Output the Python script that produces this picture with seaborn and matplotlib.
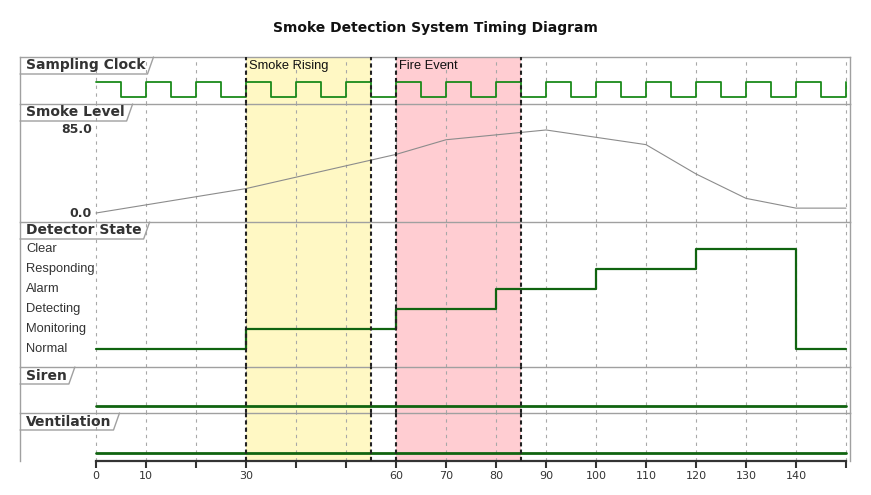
import matplotlib
matplotlib.use("Agg")
import matplotlib.pyplot as plt
import seaborn as sns
import pandas as pd
from matplotlib.lines import Line2D

# ---------------- data ----------------
title = "Smoke Detection System Timing Diagram"
signal_names = ["Sampling Clock", "Smoke Level", "Detector State", "Siren", "Ventilation"]

clock_t = [0, 5, 10, 15, 20, 25, 30, 35, 40, 45, 50, 55, 60, 65, 70, 75, 80, 85, 90, 95,
           100, 105, 110, 115, 120, 125, 130, 135, 140, 145, 150]
clock_v = [1, 0, 1, 0, 1, 0, 1, 0, 1, 0, 1, 0, 1, 0, 1, 0, 1, 0, 1, 0,
           1, 0, 1, 0, 1, 0, 1, 0, 1, 0, 1]

smoke_t = [0, 30, 60, 70, 90, 110, 120, 130, 140, 150]
smoke_v = [0, 25, 60, 75, 85, 70, 40, 15, 5, 5]
smoke_axis_labels = ["0.0", "85.0"]
smoke_axis_values = [0, 85]

state_levels = ["Normal", "Monitoring", "Detecting", "Alarm", "Responding", "Clear"]
state_t = [0, 30, 60, 80, 100, 120, 140, 150]
state_v = ["Normal", "Monitoring", "Detecting", "Alarm", "Responding", "Clear", "Normal", "Normal"]

siren_t = [0, 150]
siren_v = [0, 0]
vent_t = [0, 150]
vent_v = [0, 0]

region_names = ["Smoke Rising", "Fire Event"]
region_start = [30, 60]
region_end = [55, 85]
region_colors = ["#fff8c4", "#ffcdd2"]

x_ticks = [0, 10, 20, 30, 40, 50, 60, 70, 80, 90, 100, 110, 120, 130, 140, 150]
x_tick_labels = ["0", "10", "", "30", "", "", "60", "70", "80", "90", "100", "110",
                 "120", "130", "140", ""]

# ---------------- layout ----------------
sns.set_style("white")
plt.rcParams["font.family"] = ["DejaVu Sans"]

W, H = 871, 495
fig = plt.figure(figsize=(W / 100, H / 100), dpi=100)


def fx(px):
    return px / W


def fy(py):
    return 1 - py / H


panels = [(57, 104), (104, 222), (222, 367), (367, 413), (413, 461)]
ylims = [(-0.467, 2.667), (-9.2, 111.6), (-0.9, 6.35), (-0.2, 1.1), (-0.2, 1.0)]
XL = (-15.2, 150.8)

axes = []
for (top, bot), yl in zip(panels, ylims):
    ax = fig.add_axes([fx(20), fy(bot), fx(850) - fx(20), (bot - top) / H])
    ax.set_xlim(*XL)
    ax.set_ylim(*yl)
    ax.set_facecolor("none")
    for s in ["top", "left", "right"]:
        ax.spines[s].set_color("#a0a0a0")
        ax.spines[s].set_linewidth(1.0)
    ax.spines["bottom"].set_visible(False)
    ax.set_xticks([])
    ax.set_yticks([])
    # highlight regions
    for s0, s1, c in zip(region_start, region_end, region_colors):
        ax.axvspan(s0, s1, color=c, lw=0, zorder=0)
    # grid
    for x in x_ticks:
        ax.axvline(x, color="#a8a8a8", lw=0.8, ls=(0, (3, 4)), zorder=1)
    for s0, s1 in zip(region_start, region_end):
        for x in (s0, s1):
            ax.axvline(x, color="#222222", lw=1.5, ls=(0, (2, 1.5)), zorder=4)
    axes.append(ax)

ax_clk, ax_smk, ax_st, ax_sir, ax_ven = axes

green = "#1c7a1c"
dark_green = "#106410"

# clock
sns.lineplot(x=clock_t, y=clock_v, ax=ax_clk, drawstyle="steps-post", estimator=None,
             sort=False, color="#1a8a1a", lw=1.3, zorder=3)

# smoke
sns.lineplot(x=smoke_t, y=smoke_v, ax=ax_smk, estimator=None, sort=False,
             color="#8c8c8c", lw=0.8, zorder=3)
for v, lab in zip(smoke_axis_values, smoke_axis_labels):
    ax_smk.text(-0.8, v, lab, ha="right", va="center", fontsize=9, fontweight="bold",
                color="#333333")

# detector state
state_idx = [state_levels.index(s) for s in state_v]
sns.lineplot(x=state_t, y=state_idx, ax=ax_st, drawstyle="steps-post", estimator=None,
             sort=False, color=dark_green, lw=1.6, zorder=3)
for i, lab in enumerate(state_levels):
    ax_st.text(-14, i, lab, ha="left", va="center", fontsize=9.3,
               family=["Liberation Sans", "DejaVu Sans"], color="#333333")

# siren / ventilation
sns.lineplot(x=siren_t, y=siren_v, ax=ax_sir, estimator=None, sort=False,
             color=dark_green, lw=2.0, zorder=3)
sns.lineplot(x=vent_t, y=vent_v, ax=ax_ven, estimator=None, sort=False,
             color=dark_green, lw=2.0, zorder=3)

for ax, yl in zip(axes, ylims):
    ax.set_xlabel("")
    ax.set_ylabel("")
    ax.set_xlim(*XL)
    ax.set_ylim(*yl)
    ax.set_yticks([])

# bottom axis
ax_ven.spines["bottom"].set_visible(True)
ax_ven.spines["bottom"].set_bounds(0, 150)
ax_ven.spines["bottom"].set_color("#333333")
ax_ven.spines["bottom"].set_linewidth(1.6)
ax_ven.set_xticks(x_ticks)
ax_ven.set_xticklabels(x_tick_labels)
ax_ven.tick_params(axis="x", direction="out", length=5, width=1.5, color="#333333",
                   labelsize=8, labelcolor="#333333", pad=2, bottom=True)

# region labels
for name, s0 in zip(region_names, region_start):
    ax_clk.text(s0 + 0.6, 2.05, name, ha="left", va="center", fontsize=9.3,
                family=["Liberation Sans", "DejaVu Sans"], color="#111111", zorder=5)

# title
fig.text(0.5, fy(28), title, ha="center", va="center", fontsize=10, fontweight="bold",
         color="#111111")

# panel name tabs
tab_texts = []
for name, (top, bot) in zip(signal_names, panels):
    t = fig.text(fx(26), fy(top + 8.5), name, ha="left", va="center", fontsize=10,
                 fontweight="bold", color="#333333")
    tab_texts.append((t, top))

fig.canvas.draw()
r = fig.canvas.get_renderer()
for t, top in tab_texts:
    bb = t.get_window_extent(renderer=r)
    right = bb.x1 + 2  # display px (origin bottom)
    xs = [fx(20), right / W, (right + 6) / W]
    ys = [fy(top + 17), fy(top + 17), fy(top)]
    fig.add_artist(Line2D(xs, ys, transform=fig.transFigure, color="#a0a0a0", lw=1.0))

fig.savefig("out.png", dpi=100)
